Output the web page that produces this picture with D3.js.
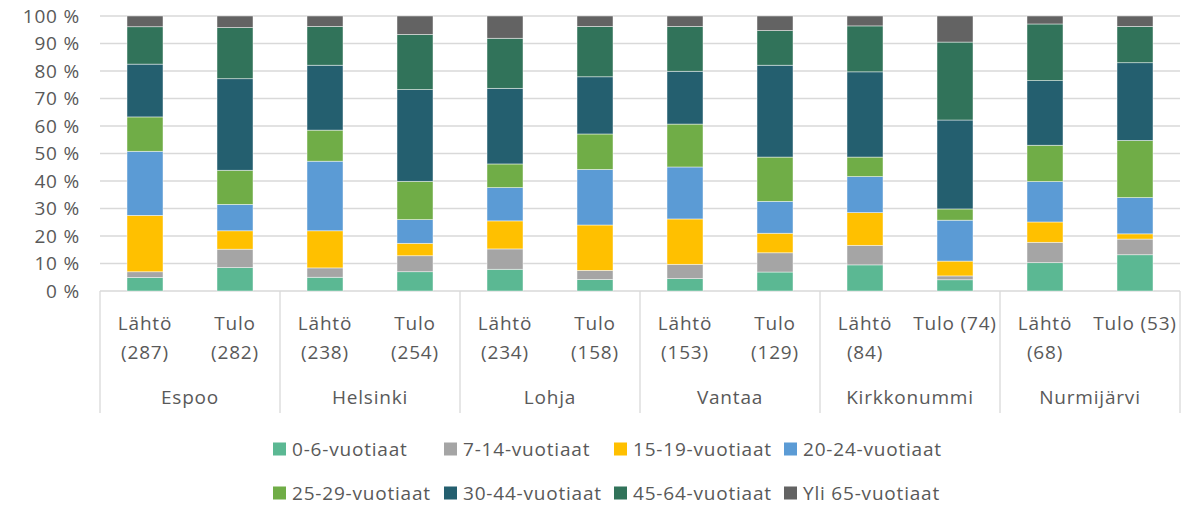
<!DOCTYPE html>
<html>
<head>
<meta charset="utf-8">
<script src="https://cdn.jsdelivr.net/npm/d3@7"></script>
<style>
  body { margin: 0; background: #fff; }
  text { font-family: "Open Sans", "Noto Sans", sans-serif; fill: #595959; font-size: 19px; letter-spacing: 0.8px; }
</style>
</head>
<body>
<div id="chart"></div>
<script>
// categories
const groups = ['Espoo', 'Helsinki', 'Lohja', 'Vantaa', 'Kirkkonummi', 'Nurmijärvi'];
const xLabels = ['Lähtö (287)', 'Tulo (282)', 'Lähtö (238)', 'Tulo (254)', 'Lähtö (234)', 'Tulo (158)',
                 'Lähtö (153)', 'Tulo (129)', 'Lähtö (84)', 'Tulo (74)', 'Lähtö (68)', 'Tulo (53)'];
const seriesNames = ['0-6-vuotiaat', '7-14-vuotiaat', '15-19-vuotiaat', '20-24-vuotiaat',
                     '25-29-vuotiaat', '30-44-vuotiaat', '45-64-vuotiaat', 'Yli 65-vuotiaat'];
const colors = ['#5BB893', '#A5A5A5', '#FFC000', '#5B9BD5', '#70AD47', '#245F6F', '#31735A', '#636363'];

// share of each age group, %
const age0_6   = [4.9, 8.5, 5.0, 7.0, 7.9, 4.2, 4.5, 6.9, 9.5, 4.1, 10.3, 13.2];
const age7_14  = [2.1, 6.7, 3.4, 5.8, 7.4, 3.3, 5.2, 7.0, 7.1, 1.4, 7.4, 5.7];
const age15_19 = [20.5, 6.7, 13.5, 4.5, 10.2, 16.5, 16.5, 7.1, 11.9, 5.4, 7.4, 1.9];
const age20_24 = [23.3, 9.6, 25.3, 8.6, 12.1, 20.2, 18.9, 11.6, 13.1, 14.9, 14.7, 13.2];
const age25_29 = [12.5, 12.4, 11.3, 13.9, 8.6, 12.9, 15.6, 16.1, 7.1, 4.1, 13.2, 20.8];
const age30_44 = [19.2, 33.3, 23.6, 33.3, 27.5, 20.8, 19.2, 33.4, 31.0, 32.4, 23.5, 28.3];
const age45_64 = [13.6, 18.6, 14.1, 20.0, 18.2, 18.3, 16.3, 12.6, 16.7, 28.4, 20.6, 13.2];
const age65    = [3.9, 4.2, 3.8, 6.7, 8.1, 3.8, 3.8, 5.3, 3.6, 9.5, 2.9, 3.8];
const yTicks = [0, 10, 20, 30, 40, 50, 60, 70, 80, 90, 100];

const seriesValues = [age0_6, age7_14, age15_19, age20_24, age25_29, age30_44, age45_64, age65];

const W = 1194, H = 506;
const plotLeft = 100, plotRight = 1180, plotTop = 16, plotBottom = 291;

const rows = xLabels.map(function (lab, i) {
    const r = { idx: i };
    seriesNames.forEach(function (s, k) { r[s] = seriesValues[k][i]; });
    return r;
});

const svg = d3.select('#chart').append('svg')
    .attr('width', W)
    .attr('height', H);

const x = d3.scaleBand()
    .domain(d3.range(xLabels.length))
    .range([plotLeft, plotRight])
    .paddingInner(0.6)
    .paddingOuter(0.3);

const y = d3.scaleLinear().domain([0, 100]).range([plotBottom, plotTop]);

// gridlines
svg.append('g')
    .selectAll('line')
    .data(yTicks)
    .enter().append('line')
    .attr('x1', plotLeft).attr('x2', plotRight)
    .attr('y1', d => y(d)).attr('y2', d => y(d))
    .attr('stroke', '#D9D9D9')
    .attr('stroke-width', 1.3);

// y axis labels
svg.append('g')
    .selectAll('text')
    .data(yTicks)
    .enter().append('text')
    .attr('x', 80)
    .attr('y', d => y(d))
    .attr('dy', '0.35em')
    .attr('text-anchor', 'end')
    .text(d => d + ' %');

// stacked bars
const stack = d3.stack().keys(seriesNames).offset(d3.stackOffsetExpand);
const layers = stack(rows);

svg.append('g')
    .selectAll('g')
    .data(layers)
    .enter().append('g')
    .attr('fill', (d, i) => colors[i])
    .selectAll('rect')
    .data(d => d)
    .enter().append('rect')
    .attr('x', d => x(d.data.idx))
    .attr('width', x.bandwidth())
    .attr('y', d => y(d[1] * 100))
    .attr('height', d => y(d[0] * 100) - y(d[1] * 100))
    .attr('stroke', '#ffffff')
    .attr('stroke-opacity', 0.6)
    .attr('stroke-width', 0.75);

// category axis: separators between groups
const step = x.step();
const sepX = d3.range(groups.length + 1).map(i => plotLeft + i * 2 * step);
svg.append('g')
    .selectAll('line')
    .data(sepX)
    .enter().append('line')
    .attr('x1', d => d).attr('x2', d => d)
    .attr('y1', plotBottom).attr('y2', 413)
    .attr('stroke', '#D9D9D9')
    .attr('stroke-width', 1.3);

// sub-category labels, wrapped like Excel does
const subG = svg.append('g');
xLabels.forEach(function (lab, i) {
    const cx = x(i) + x.bandwidth() / 2;
    const t = subG.append('text')
        .attr('x', cx)
        .attr('y', 330)
        .attr('text-anchor', 'middle')
        .text(lab);
    if (t.node().getComputedTextLength() > step - 2) {
        const parts = lab.split(' ');
        t.text(parts[0]);
        subG.append('text')
            .attr('x', cx)
            .attr('y', 359)
            .attr('text-anchor', 'middle')
            .text(parts.slice(1).join(' '));
    }
});

// group labels
svg.append('g')
    .selectAll('text')
    .data(groups)
    .enter().append('text')
    .attr('x', (d, i) => (sepX[i] + sepX[i + 1]) / 2)
    .attr('y', 404)
    .attr('text-anchor', 'middle')
    .text(d => d);

// legend: two rows of four
const legX = [273, 444, 614, 784];
const legY = [449, 493];
const leg = svg.append('g')
    .selectAll('g')
    .data(seriesNames)
    .enter().append('g')
    .attr('transform', (d, i) => 'translate(' + legX[i % 4] + ',' + legY[Math.floor(i / 4)] + ')');

leg.append('rect')
    .attr('x', 0).attr('y', -6.5)
    .attr('width', 13).attr('height', 13)
    .attr('fill', (d, i) => colors[i]);

leg.append('text')
    .attr('x', 19)
    .attr('dy', '0.35em')
    .text(d => d);
</script>
</body>
</html>
